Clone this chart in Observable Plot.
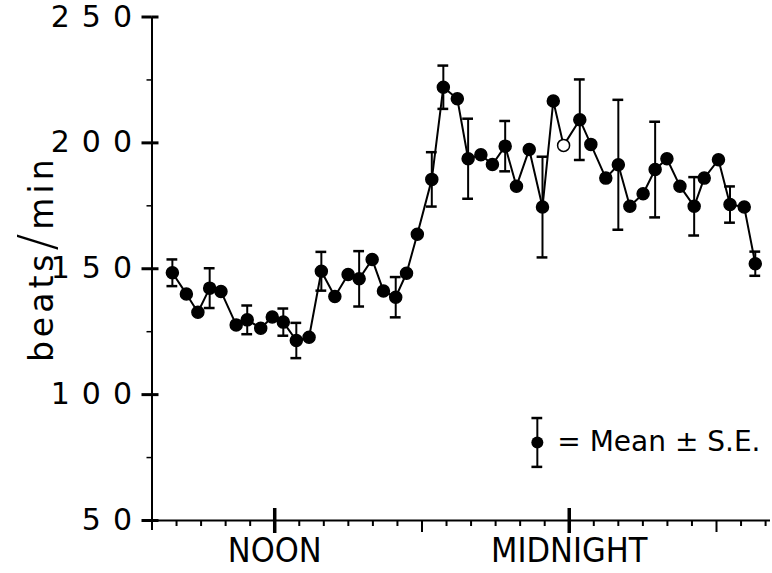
<!DOCTYPE html>
<html>
<head>
<meta charset="utf-8">
<script src="https://cdn.jsdelivr.net/npm/d3@7"></script>
<script src="https://cdn.jsdelivr.net/npm/@observablehq/plot@0.6"></script>
<style>
  html, body { margin: 0; padding: 0; background: white; }
</style>
</head>
<body>
<div id="chart"></div>
<script>
// Time of day in hours (12 = noon, 24 = midnight, 32 = 8 AM next day)
const hours = [7.83, 8.40, 8.87, 9.35, 9.81, 10.43, 10.88, 11.43, 11.90, 12.35,
  12.88, 13.40, 13.90, 14.45, 14.99, 15.44, 15.97, 16.43, 16.93, 17.37,
  17.81, 18.40, 18.87, 19.44, 19.88, 20.40, 20.87, 21.39, 21.85, 22.37,
  22.91, 23.35, 23.77, 24.43, 24.88, 25.49, 26.00, 26.47, 27.01, 27.50,
  27.98, 28.51, 29.09, 29.50, 30.08, 30.55, 31.13, 31.58];
// Mean heart rate, beats/min
const bpm = [148.4, 140.0, 132.7, 142.3, 141.0, 127.7, 129.7, 126.4, 130.8, 128.8,
  121.5, 122.8, 149.0, 139.0, 147.7, 146.0, 153.7, 141.2, 138.7, 148.2,
  163.7, 185.5, 222.1, 217.5, 193.7, 195.3, 191.4, 198.7, 182.8, 197.4,
  174.5, 216.6, 199.0, 209.2, 199.4, 186.0, 191.3, 174.8, 179.8, 189.4,
  193.7, 182.8, 174.8, 186.0, 193.3, 175.5, 174.5, 152.0];
// Standard error (null = no bar drawn)
const se = [5.3, null, null, 7.9, null, null, 5.7, null, null, 5.4,
  7.0, null, 7.7, null, null, 11.0, null, null, 8.0, null,
  null, 10.8, 8.6, null, 15.9, null, null, 10.0, null, null,
  20.0, null, null, 16.0, null, null, 25.8, null, null, 19.0,
  null, null, 11.6, null, null, 7.2, null, 4.8];
const openPoint = 32; // the one hollow marker

const yMajor = [50, 100, 150, 200, 250];
const yMinor = [75, 125, 175, 225];
const hourTicks = [8, 9, 10, 11, 13, 14, 15, 16, 17, 19, 20, 21, 22, 23, 25, 26, 27, 28, 29, 31, 32];
const midTicks = [18, 30];
const labelTicks = [12, 24];
const xLabels = ["NOON", "MIDNIGHT"];
const yLabel = "beats/min";

// legend key sample
const legendKey = [{h: 22.7, bpm: 81, se: 9.7}];
const legendText = "= Mean \u00b1 S.E.";

const data = hours.map((h, i) => ({h, bpm: bpm[i], se: se[i], open: i === openPoint}));
const bars = data.filter(d => d.se != null);

const W = 772, H = 573;
const mL = 151.5, mR = 2, mT = 16.5, mB = 53;
const frameW = W - mL - mR, frameH = H - mT - mB;
const capHalf = 0.22;

const errMarks = (arr) => [
  Plot.ruleX(arr, {x: "h", y1: d => d.bpm - d.se, y2: d => d.bpm + d.se, stroke: "black", strokeWidth: 2}),
  Plot.ruleY(arr, {y: d => d.bpm + d.se, x1: d => d.h - capHalf, x2: d => d.h + capHalf, stroke: "black", strokeWidth: 2.5}),
  Plot.ruleY(arr, {y: d => d.bpm - d.se, x1: d => d.h - capHalf, x2: d => d.h + capHalf, stroke: "black", strokeWidth: 2.5})
];

const chart = Plot.plot({
  width: W, height: H,
  marginLeft: mL, marginRight: mR, marginTop: mT, marginBottom: mB,
  x: {domain: [7, 32.2], axis: null},
  y: {domain: [50, 250], axis: null},
  style: {background: "white", color: "black", fontFamily: "DejaVu Sans", overflow: "visible"},
  marks: [
    // axes lines
    Plot.ruleX([7], {stroke: "black", strokeWidth: 2, insetBottom: -10}),
    Plot.ruleY([50], {stroke: "black", strokeWidth: 2}),
    // y ticks
    Plot.axisY(yMajor, {label: null, tickSize: 10, strokeWidth: 3, tickPadding: 10, fontSize: 30, fontFamily: "DejaVu Sans"}),
    Plot.tickY(yMajor, {stroke: "black", strokeWidth: 3, insetRight: frameW - 7}),
    Plot.axisY(yMinor, {label: null, tickSize: 5, strokeWidth: 1.5, tickFormat: () => ""}),
    // x ticks
    Plot.axisX(hourTicks, {label: null, tickSize: 6, strokeWidth: 2, tickFormat: () => ""}),
    Plot.axisX(midTicks, {label: null, tickSize: 12, strokeWidth: 2, tickFormat: () => ""}),
    Plot.tickX(labelTicks, {stroke: "black", strokeWidth: 3.5, insetTop: frameH - 12, insetBottom: -13}),
    Plot.axisX(labelTicks, {label: null, tickSize: 0, tickPadding: 17, fontSize: 34,
      fontFamily: "DejaVu Sans Condensed, Liberation Sans Narrow, sans-serif",
      tickFormat: (d) => xLabels[labelTicks.indexOf(d)]}),
    // y label
    Plot.text([yLabel], {frameAnchor: "left", textAnchor: "middle", dx: -110, dy: -10, rotate: -90, fontSize: 33, text: d => d}),
    // data
    ...errMarks(bars),
    Plot.line(data, {x: "h", y: "bpm", stroke: "black", strokeWidth: 2}),
    Plot.dot(data, {x: "h", y: "bpm", r: 6, fill: d => d.open ? "white" : "black", stroke: "black", strokeWidth: 1.5}),
    // legend
    ...errMarks(legendKey),
    Plot.dot(legendKey, {x: "h", y: "bpm", r: 6, fill: "black"}),
    Plot.text(legendKey, {x: "h", y: "bpm", text: () => legendText, textAnchor: "start", dx: 20, fontSize: 28})
  ]
});

// letter spacing on text to mimic the lettering
const svg = d3.select(chart);
svg.selectAll('g[aria-label="y-axis tick label"] text').style("letter-spacing", "12px").attr("dx", "12");
// larger, thin slash in the y label, as in the original lettering
svg.selectAll('g[aria-label="text"] text').each(function() {
  if (this.textContent === yLabel) {
    const t = d3.select(this).style("letter-spacing", "4px");
    t.text(null);
    t.append("tspan").text("beats");
    t.append("tspan").attr("font-size", 50).attr("font-family", "DejaVu Sans").attr("font-weight", 300).text("/");
    t.append("tspan").text("min");
  }
});

document.getElementById("chart").appendChild(chart);
</script>
</body>
</html>
